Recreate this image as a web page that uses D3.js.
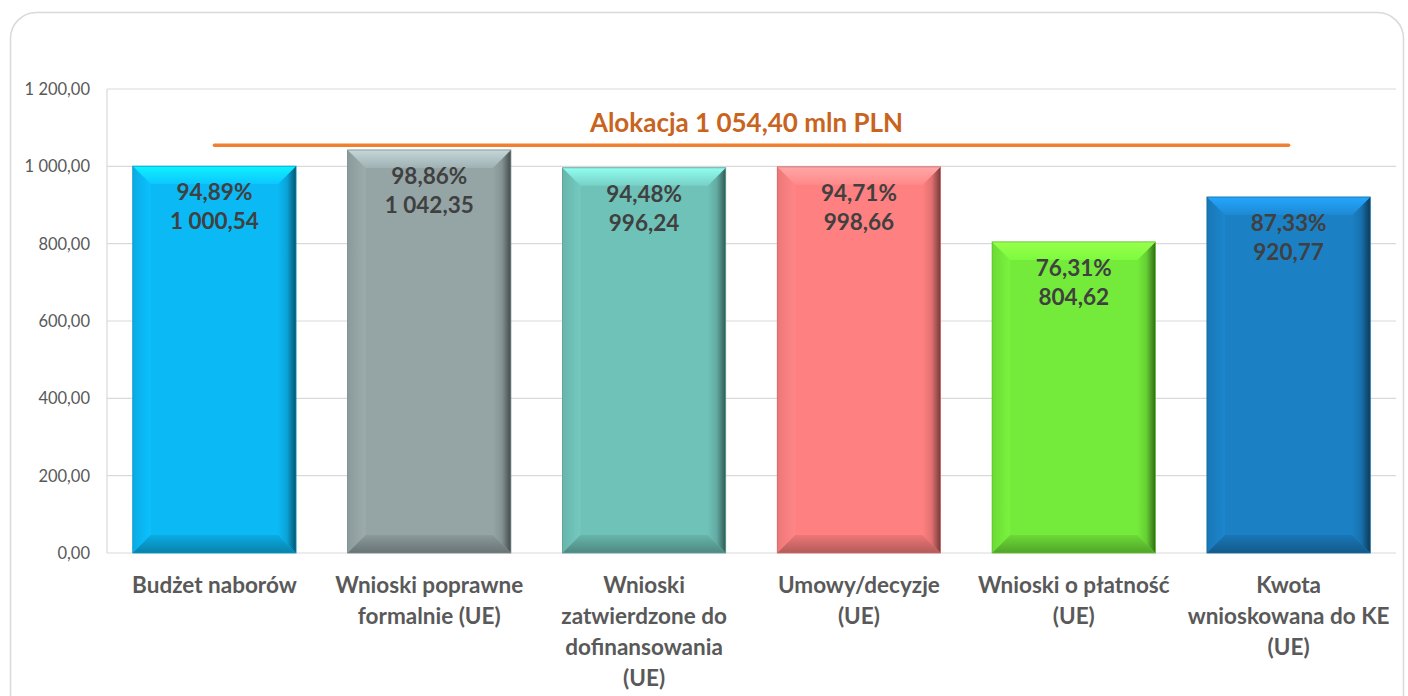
<!DOCTYPE html>
<html><head><meta charset="utf-8">
<script src="https://cdn.jsdelivr.net/npm/d3@7"></script>
<style>
html,body{margin:0;padding:0;background:#fff;}
svg{display:block;font-family:Lato,"Open Sans",sans-serif;}
</style></head>
<body><svg id="c" width="1408" height="696"></svg>
<script>
const categories = [
  ["Budżet naborów"],
  ["Wnioski poprawne","formalnie (UE)"],
  ["Wnioski","zatwierdzone do","dofinansowania","(UE)"],
  ["Umowy/decyzje","(UE)"],
  ["Wnioski o płatność","(UE)"],
  ["Kwota","wnioskowana do KE","(UE)"]
];
const values = [1000.54, 1042.35, 996.24, 998.66, 804.62, 920.77];
const valueLabels = ["1 000,54","1 042,35","996,24","998,66","804,62","920,77"];
const percentLabels = ["94,89%","98,86%","94,48%","94,71%","76,31%","87,33%"];
const barColors = ["#0BB9F4","#95A5A6","#6FC2B8","#FF8080","#74EA3A","#1B80C4"];
const allocation = 1054.40;
const allocationLabel = "Alokacja 1 054,40 mln PLN";
const yTicks = [0,200,400,600,800,1000,1200];
const yTickLabels = ["0,00","200,00","400,00","600,00","800,00","1 000,00","1 200,00"];

const svg = d3.select("#c");
const W = 1408, H = 696;
const m = {left:107, right:12, top:89, bottom:143};

svg.append("rect").attr("x",10.5).attr("y",12.5).attr("width",1393).attr("height",720)
  .attr("rx",26).attr("fill","#fff").attr("stroke","#d9d9d9").attr("stroke-width",1.5);

const x = d3.scaleBand().domain(d3.range(categories.length))
  .range([m.left, W - m.right]).paddingInner(0.24).paddingOuter(0.12);
const y = d3.scaleLinear().domain([0,1200]).range([H - m.bottom, m.top]);

svg.append("g").selectAll("line").data(yTicks).join("line")
  .attr("x1",m.left).attr("x2",W-m.right)
  .attr("y1",d=>y(d)).attr("y2",d=>y(d))
  .attr("stroke","#d9d9d9").attr("stroke-width",1.2);
svg.append("line").attr("x1",m.left).attr("x2",m.left).attr("y1",y(1200)).attr("y2",y(0))
  .attr("stroke","#d9d9d9").attr("stroke-width",1.2);

svg.append("g").selectAll("text").data(yTicks).join("text")
  .attr("x",90).attr("y",d=>y(d)).attr("dy","0.36em")
  .attr("text-anchor","end").attr("font-size",16.5).attr("fill","#595959")
  .text((d,i)=>yTickLabels[i]);

const defs = svg.append("defs");
barColors.forEach((c,i)=>{
  const base = d3.color(c);
  const g1 = defs.append("linearGradient").attr("id","top"+i).attr("x1",0).attr("y1",0).attr("x2",0).attr("y2",1);
  g1.append("stop").attr("offset",0).attr("stop-color",d3.color(c).brighter(0.75));
  g1.append("stop").attr("offset",1).attr("stop-color",d3.color(c).brighter(0.2));
  const g2 = defs.append("linearGradient").attr("id","right"+i).attr("x1",0).attr("y1",0).attr("x2",1).attr("y2",0);
  g2.append("stop").attr("offset",0).attr("stop-color",base);
  g2.append("stop").attr("offset",0.5).attr("stop-color",d3.color(c).darker(0.35));
  g2.append("stop").attr("offset",1).attr("stop-color",d3.color(c).darker(2.2));
  const g3 = defs.append("linearGradient").attr("id","bot"+i).attr("x1",0).attr("y1",0).attr("x2",0).attr("y2",1);
  g3.append("stop").attr("offset",0).attr("stop-color",d3.color(c).darker(0.2));
  g3.append("stop").attr("offset",1).attr("stop-color",d3.color(c).darker(1.0));
  const g4 = defs.append("linearGradient").attr("id","left"+i).attr("x1",0).attr("y1",0).attr("x2",1).attr("y2",0);
  g4.append("stop").attr("offset",0).attr("stop-color",d3.color(c).darker(0.2));
  g4.append("stop").attr("offset",1).attr("stop-color",d3.color(c).brighter(0.12));
});

const b = 18;
const bars = svg.append("g");
values.forEach((v,i)=>{
  const x0 = x(i), x1 = x(i)+x.bandwidth(), y0 = y(v), y1 = y(0);
  const g = bars.append("g");
  g.append("rect").attr("x",x0).attr("y",y0).attr("width",x1-x0).attr("height",y1-y0).attr("fill",barColors[i]);
  const poly = pts => pts.map(p=>p.join(",")).join(" ");
  g.append("polygon").attr("points",poly([[x0,y0],[x0+b,y0+b],[x0+b,y1-b],[x0,y1]])).attr("fill",`url(#left${i})`);
  g.append("polygon").attr("points",poly([[x1,y0],[x1-b,y0+b],[x1-b,y1-b],[x1,y1]])).attr("fill",`url(#right${i})`);
  g.append("polygon").attr("points",poly([[x0,y1],[x0+b,y1-b],[x1-b,y1-b],[x1,y1]])).attr("fill",`url(#bot${i})`);
  g.append("polygon").attr("points",poly([[x0,y0],[x1,y0],[x1-b,y0+b],[x0+b,y0+b]])).attr("fill",`url(#top${i})`);
  g.append("rect").attr("x",x0).attr("y",y0).attr("width",x1-x0).attr("height",y1-y0)
    .attr("fill","none").attr("stroke",d3.color(barColors[i]).darker(0.6)).attr("stroke-width",0.8);
  const cx = x0 + x.bandwidth()/2;
  g.append("text").attr("x",cx).attr("y",y0+34).attr("text-anchor","middle")
    .attr("font-size",22.5).attr("font-weight","bold").attr("fill","#404040").text(percentLabels[i]);
  g.append("text").attr("x",cx).attr("y",y0+63).attr("text-anchor","middle")
    .attr("font-size",22.5).attr("font-weight","bold").attr("fill","#404040").text(valueLabels[i]);
});

const c0 = x(0)+x.bandwidth()/2, c5 = x(5)+x.bandwidth()/2;
svg.append("line").attr("x1",c0).attr("x2",c5).attr("y1",y(allocation)).attr("y2",y(allocation))
  .attr("stroke","#F07F30").attr("stroke-width",3.5).attr("stroke-linecap","round");
svg.append("text").attr("x",(m.left + W - m.right)/2 - 5).attr("y",y(allocation)-13)
  .attr("text-anchor","middle").attr("font-size",26).attr("font-weight","bold").attr("fill","#C8641E")
  .text(allocationLabel);

const cat = svg.append("g");
categories.forEach((lines,i)=>{
  const t = cat.append("text").attr("x",x(i)+x.bandwidth()/2).attr("y",593)
    .attr("text-anchor","middle").attr("font-size",22.5).attr("font-weight","bold").attr("fill","#595959");
  lines.forEach((l,j)=>{
    t.append("tspan").attr("x",x(i)+x.bandwidth()/2).attr("y",593+j*31).text(l);
  });
});
</script></body></html>
